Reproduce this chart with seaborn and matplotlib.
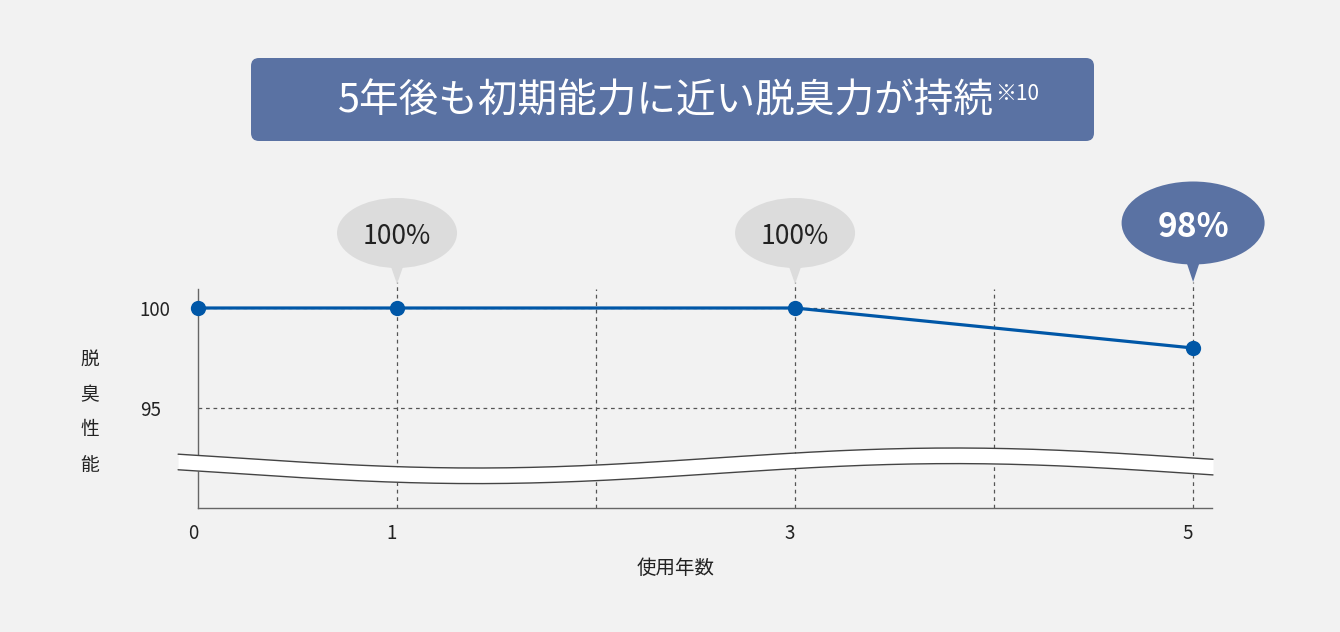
import numpy as np
import pandas as pd
import matplotlib
matplotlib.use("Agg")
import matplotlib.pyplot as plt
from matplotlib.patches import Ellipse, Polygon, FancyBboxPatch
from matplotlib.transforms import ScaledTranslation
import seaborn as sns

# data
years = [0, 1, 3, 5]
performance = [100, 100, 100, 98]
callout_years = [1, 3, 5]
x_ticks = [0, 1, 3, 5]
y_ticks = [95, 100]
title = "5年後も初期能力に近い脱臭力が持続"
note = "※10"
x_label = "使用年数"
y_label = "脱臭性能"

BG = "#f2f2f2"
BLUE = "#0057a7"
NAVY = "#5a72a3"
GRAY = "#dcdcdc"
GRID = "#555555"

sns.set_theme(style="white", rc={"axes.facecolor": BG, "figure.facecolor": BG})
plt.rcParams["font.family"] = ["Noto Sans CJK JP", "DejaVu Sans"]

fig = plt.figure(figsize=(13.4, 6.32), dpi=100)
ax = fig.add_axes([198 / 1340, 124 / 632, 1014 / 1340, 219 / 632])

df = pd.DataFrame({"year": years, "score": performance})
sns.lineplot(data=df, x="year", y="score", color=BLUE, lw=2.3, marker="o",
             markersize=11, markeredgewidth=0, ax=ax, zorder=5, clip_on=False)

# dashed guide lines
dash = (0, (3, 3))
for x in range(1, 6):
    top = 1.03 if x in callout_years else 1
    ax.axvline(x, ymin=0, ymax=top, color=GRID, lw=0.9, ls=dash, clip_on=False, zorder=1)
ax.hlines(y_ticks, 0, 5, color=GRID, lw=0.9, ls=dash, zorder=1)

# axis break band
xs = np.linspace(-0.1, 5.1, 300)
band_top = 92.5 - 0.5 * np.cos(2 * np.pi * (xs - 1.4) / 4.8)
band_bot = band_top - 0.78
ax.fill_between(xs, band_bot, band_top, color="white", lw=0, zorder=3, clip_on=False)
ax.plot(xs, band_top, color="#444444", lw=1, zorder=3.1, clip_on=False)
ax.plot(xs, band_bot, color="#444444", lw=1, zorder=3.1, clip_on=False)

ax.spines[["top", "right"]].set_visible(False)
for s in ["left", "bottom"]:
    ax.spines[s].set_color("#666666")
    ax.spines[s].set_linewidth(1)

ax.set_xticks(x_ticks)
ax.set_xticklabels([str(v) for v in x_ticks], ha="right")
ax.set_yticks(y_ticks)
ax.set_yticklabels([str(v) for v in y_ticks], ha="left")
ax.tick_params(length=0, labelsize=13.5, colors="#222222")
ax.tick_params(axis="x", pad=11)
ax.tick_params(axis="y", pad=42)

ax.set_xlabel(x_label, fontsize=14, color="#222222", va="center")
ax.xaxis.set_label_coords(0.4714, -0.2785)
ax.set_ylabel("\n".join(y_label), fontsize=13.5, color="#222222", rotation=0,
              va="center", ha="center", linespacing=1.9)
ax.yaxis.set_label_coords(-0.1065, 0.437)

ax.set_xlim(0, 5.095)
ax.set_ylim(90, 100.95)

# callout bubbles
for yr in callout_years:
    v = performance[years.index(yr)]
    hi = yr == years[-1]
    trans = fig.dpi_scale_trans + ScaledTranslation(yr, 1, ax.get_xaxis_transform())
    if hi:
        w, h, cy, col, base, tip = 1.43, 0.83, 0.66, NAVY, 0.28, 0.07
    else:
        w, h, cy, col, base, tip = 1.20, 0.70, 0.56, GRAY, 0.25, 0.05
    fig.add_artist(Ellipse((0, cy), w, h, transform=trans, facecolor=col, lw=0, zorder=2))
    fig.add_artist(Polygon([(-0.07, base), (0.07, base), (0, tip)], closed=True,
                           transform=trans, facecolor=col, lw=0, zorder=2))
    if hi:
        fig.text(0, cy - 0.045, f"{v}%", transform=trans, ha="center", va="center",
                 fontsize=24, fontweight="bold", color="white", zorder=3)
    else:
        fig.text(0, cy - 0.03, f"{v}%", transform=trans, ha="center", va="center",
                 fontsize=19, color="#222222", zorder=3)

# title box
fig.add_artist(FancyBboxPatch((2.51, 4.91), 8.43, 0.83,
                              boxstyle="round,pad=0,rounding_size=0.08",
                              transform=fig.dpi_scale_trans, facecolor=NAVY, lw=0))
t = fig.text(3.38, 5.30, title, transform=fig.dpi_scale_trans, ha="left", va="center",
             fontsize=28.5, color="white", zorder=3)
bb = t.get_window_extent(fig.canvas.get_renderer())
fig.text(bb.x1 / 1340 + 0.001, (632 - 83) / 632, note, ha="left", va="top",
         fontsize=15, color="white", zorder=3)

fig.savefig("out.png", dpi=100, facecolor=fig.get_facecolor())
